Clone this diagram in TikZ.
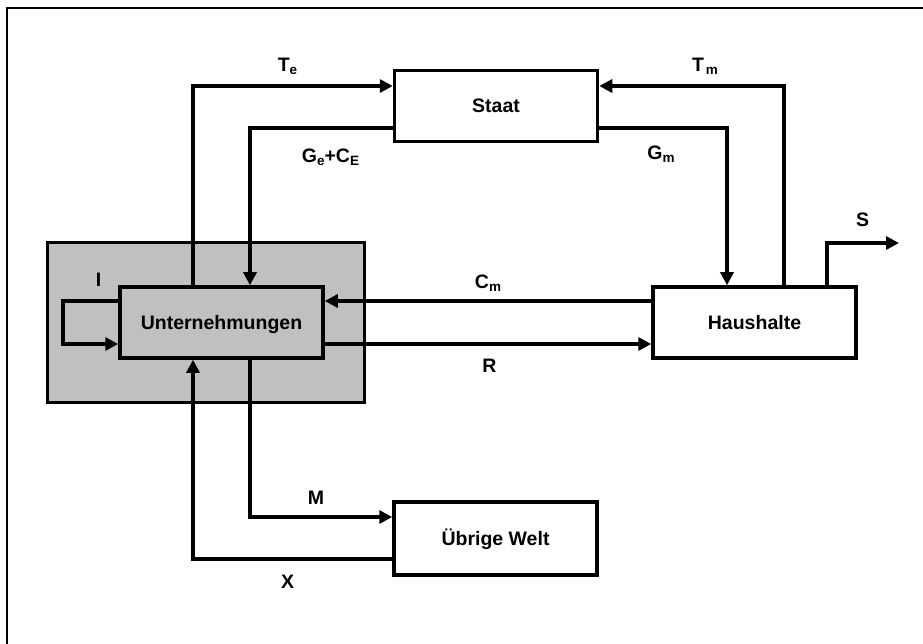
\documentclass[tikz,border=0pt]{standalone}
\usepackage{fontspec}
\setmainfont{Liberation Sans}
\usetikzlibrary{arrows.meta}
\definecolor{panelgray}{RGB}{192,192,192}
\newcommand{\low}[1]{\raisebox{-3pt}{\fontsize{13.5}{14}\selectfont #1}}

\begin{document}
\begin{tikzpicture}[x=1pt,y=-1pt,
  font=\fontsize{19.5}{22}\selectfont\bfseries,
  sector/.style={draw,line width=3.5pt,minimum width=203pt,minimum height=71pt,
    inner sep=0pt,text height=14pt,text depth=0pt},
  flow/.style={line width=3.5pt,-{Triangle[length=13pt,width=13pt]}},
  lbl/.style={anchor=base,inner sep=0pt}]
\useasboundingbox (0,0) rectangle (923,644);
\draw[line width=1.2pt] (7,644) -- (7,8) -- (923,8);

% sectors
\node[draw,line width=3pt,fill=panelgray,minimum width=317pt,minimum height=159pt] (panel) at (205.5,322.5) {};
\node[sector,fill=panelgray] (firm) at (221.5,322.5) {Unternehmungen};
\node[sector] (staat) at (496,106) {Staat};
\node[sector] (haus) at (754.5,322.5) {Haushalte};
\node[sector,minimum height=73pt] (welt) at (495.5,538.5) {Übrige Welt};

% bends
\coordinate (te) at (193,86);
\coordinate (ge) at (250,128);
\coordinate (tm) at (784,86);
\coordinate (gm) at (727,128);
\coordinate (sv) at (827,243);
\coordinate (sout) at (899,243);
\coordinate (cm) at (0,301);
\coordinate (rr) at (0,344);
\coordinate (ia) at (63,301);
\coordinate (ib) at (63,344);
\coordinate (mm) at (250,517);
\coordinate (xx) at (193,559);

\draw[flow] (firm.north -| te) -- (te) -- (staat.west |- te);
\draw[flow] (staat.west |- ge) -- (ge) -- (firm.north -| ge);
\draw[flow] (haus.north -| tm) -- (tm) -- (staat.east |- tm);
\draw[flow] (staat.east |- gm) -- (gm) -- (haus.north -| gm);
\draw[flow] (haus.north -| sv) -- (sv) -- (sout);
\draw[flow] (haus.west |- cm) -- (firm.east |- cm);
\draw[flow] (firm.east |- rr) -- (haus.west |- rr);
\draw[flow] (firm.west |- ia) -- (ia) -- (ib) -- (firm.west |- ib);
\draw[flow] (firm.south -| mm) -- (mm) -- (welt.west |- mm);
\draw[flow] (welt.west |- xx) -- (xx) -- (firm.south -| xx);

% labels
\node[lbl] (lte) at (287.5,72) {T\low{e}};
\node[lbl] (ltm) at (705,72) {T\kern2pt\low{m}};
\node[lbl] (lge) at (330.5,163) {G\low{e}+C\low{E}};
\node[lbl] (lgm) at (661,160) {G\low{m}};
\node[lbl] (lcm) at (488,288) {C\low{m}};
\node[lbl] (lr) at (489.5,372) {R};
\node[lbl] (li) at (98.5,287) {I};
\node[lbl] (lm) at (316,504) {M};
\node[lbl] (lx) at (287.5,588) {X};
\node[lbl] (ls) at (862.5,227) {S};
\end{tikzpicture}
\end{document}
